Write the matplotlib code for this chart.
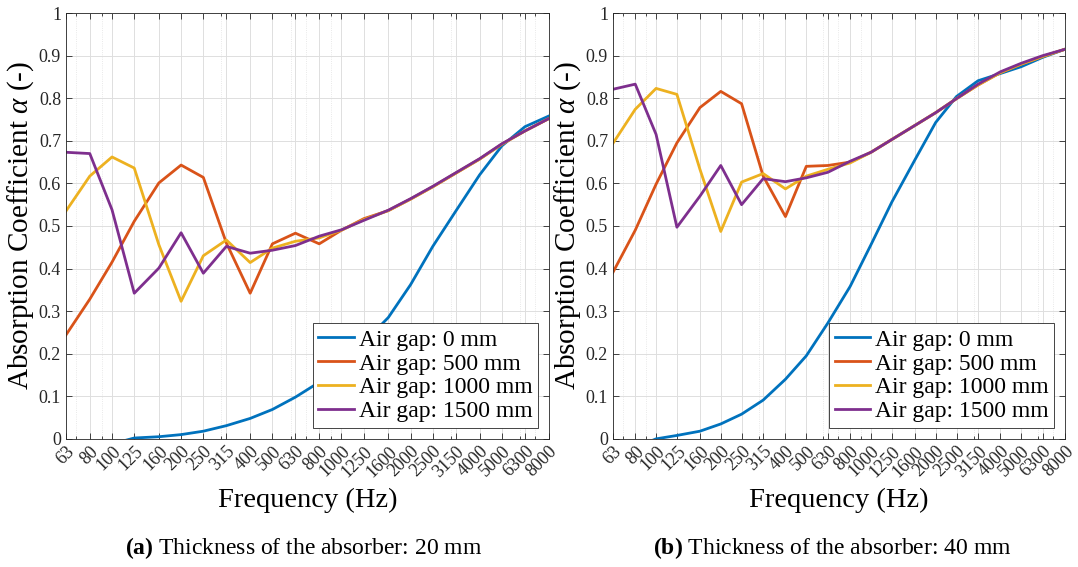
import matplotlib
matplotlib.use("Agg")
import matplotlib.pyplot as plt
from matplotlib.ticker import FixedLocator, NullFormatter, LogLocator
import numpy as np

plt.rcParams['font.family'] = 'Liberation Serif'
plt.rcParams['mathtext.fontset'] = 'custom'
plt.rcParams['mathtext.rm'] = 'Liberation Serif'
plt.rcParams['mathtext.it'] = 'Liberation Serif:italic'
plt.rcParams['mathtext.bf'] = 'Liberation Serif:bold'

# Third-octave band centre frequencies
freqs = [63, 80, 100, 125, 160, 200, 250, 315, 400, 500, 630, 800, 1000,
         1250, 1600, 2000, 2500, 3150, 4000, 5000, 6300, 8000]
labels = ['0 mm', '500 mm', '1000 mm', '1500 mm']
colors = ['#0072BD', '#D95319', '#EDB120', '#7E2F8E']

# (a) absorber thickness 20 mm
a_gap0 = [np.nan, np.nan, -0.012, 0.002, 0.005, 0.010, 0.018, 0.031, 0.048, 0.069, 0.098,
          0.133, 0.177, 0.226, 0.285, 0.362, 0.452, 0.535, 0.620, 0.688, 0.733, 0.758]
a_gap500 = [0.244, 0.328, 0.415, 0.511, 0.601, 0.643, 0.614, 0.460, 0.342, 0.458, 0.483,
            0.458, 0.490, 0.517, 0.536, 0.563, 0.592, 0.624, 0.657, 0.692, 0.723, 0.752]
a_gap1000 = [0.535, 0.617, 0.662, 0.636, 0.456, 0.323, 0.430, 0.467, 0.414, 0.448, 0.464,
             0.472, 0.490, 0.515, 0.536, 0.563, 0.592, 0.624, 0.657, 0.692, 0.723, 0.752]
a_gap1500 = [0.673, 0.670, 0.538, 0.342, 0.401, 0.484, 0.389, 0.452, 0.436, 0.443, 0.454,
             0.476, 0.491, 0.513, 0.537, 0.564, 0.593, 0.625, 0.658, 0.693, 0.723, 0.752]

# (b) absorber thickness 40 mm
b_gap0 = [np.nan, -0.02, 0.0, 0.008, 0.018, 0.035, 0.058, 0.091, 0.140, 0.195, 0.272,
          0.358, 0.456, 0.556, 0.655, 0.743, 0.804, 0.841, 0.858, 0.874, 0.896, 0.915]
b_gap500 = [0.391, 0.490, 0.598, 0.695, 0.778, 0.816, 0.787, 0.617, 0.522, 0.640, 0.642,
            0.650, 0.673, 0.703, 0.736, 0.766, 0.799, 0.831, 0.860, 0.880, 0.898, 0.915]
b_gap1000 = [0.694, 0.774, 0.823, 0.809, 0.633, 0.487, 0.603, 0.623, 0.587, 0.617, 0.633,
             0.648, 0.673, 0.703, 0.736, 0.766, 0.799, 0.831, 0.860, 0.880, 0.898, 0.915]
b_gap1500 = [0.821, 0.833, 0.715, 0.497, 0.570, 0.642, 0.550, 0.611, 0.604, 0.613, 0.626,
             0.652, 0.673, 0.703, 0.736, 0.766, 0.799, 0.833, 0.862, 0.882, 0.900, 0.915]

fig = plt.figure(figsize=(10.78, 5.67), dpi=100)
ax_a = fig.add_axes([0.0612, 0.226, 0.4478, 0.751])
ax_b = fig.add_axes([0.5686, 0.226, 0.4194, 0.751])

panels = [(ax_a, [a_gap0, a_gap500, a_gap1000, a_gap1500]),
          (ax_b, [b_gap0, b_gap500, b_gap1000, b_gap1500])]

for ax, series in panels:
    for vals, lab, c in zip(series, labels, colors):
        ax.plot(freqs, vals, color=c, lw=2, label='Air gap: ' + lab)
    ax.set_xscale('log')
    ax.set_xlim(63, 8000)
    ax.set_ylim(0, 1)
    ax.xaxis.set_major_locator(FixedLocator(freqs))
    ax.set_xticklabels([str(f) for f in freqs], rotation=45, ha='right',
                       rotation_mode='anchor', fontsize=13, color='#262626')
    ax.xaxis.set_minor_locator(LogLocator(base=10, subs=np.arange(2, 10)))
    ax.xaxis.set_minor_formatter(NullFormatter())
    ax.set_yticks(np.arange(0, 1.01, 0.1))
    ax.set_yticklabels(['0'] + ['%.1f' % v for v in np.arange(0.1, 0.95, 0.1)] + ['1'],
                       fontsize=13, color='#262626')
    ax.tick_params(which='both', direction='in', top=True, right=True,
                   color='#262626', width=0.6)
    ax.tick_params(which='major', length=4)
    ax.tick_params(which='minor', length=2)
    ax.tick_params(axis='x', pad=3)
    ax.grid(which='major', color='#dedede', lw=0.7)
    ax.grid(which='minor', axis='x', color='#e2e2e2', lw=0.6, ls=':')
    ax.set_axisbelow(True)
    for s in ax.spines.values():
        s.set_color('#262626')
        s.set_linewidth(0.6)
    ax.set_xlabel('Frequency (Hz)', fontsize=20.5, labelpad=5)
    ax.set_ylabel(r'Absorption Coefficient $\alpha$ (-)', fontsize=21, labelpad=2)
    leg = ax.legend(loc='lower right', fontsize=17, fancybox=False, framealpha=1,
                    edgecolor='#262626', borderpad=0.25, labelspacing=0.1,
                    handlelength=1.5, handletextpad=0.2, borderaxespad=0.45)
    leg.get_frame().set_linewidth(0.6)

fig.text(0.282, 0.034, r'$\mathbf{(a)}$ Thickness of the absorber: 20 mm',
         ha='center', va='center', fontsize=17)
fig.text(0.772, 0.034, r'$\mathbf{(b)}$ Thickness of the absorber: 40 mm',
         ha='center', va='center', fontsize=17)

fig.savefig('out.png', dpi=100)
